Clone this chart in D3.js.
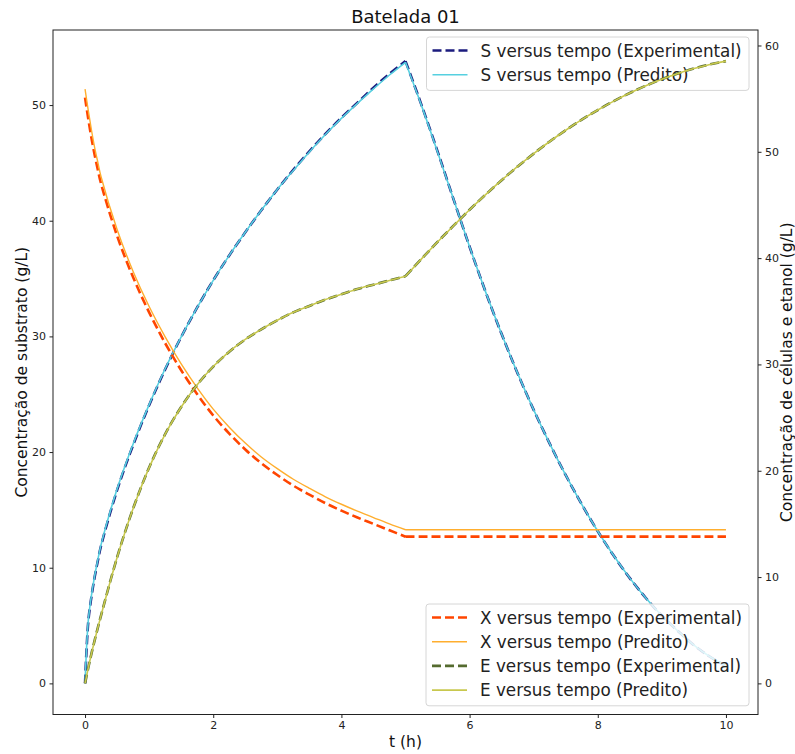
<!DOCTYPE html>
<html>
<head>
<meta charset="utf-8">
<script src="https://cdn.jsdelivr.net/npm/d3@7"></script>
<style>
  body { margin: 0; background: #fff; }
  svg { font-family: "DejaVu Sans", sans-serif; }
</style>
</head>
<body>
<svg width="795" height="754"></svg>
<script>
// dados
var tempo = [0, 0.05, 0.1, 0.15, 0.2, 0.25, 0.5, 0.75, 1, 1.25, 1.5, 1.75, 2, 2.25, 2.5, 2.75, 3, 3.25, 3.5, 3.75, 4, 4.25, 4.5, 4.75, 5,
             5.25, 5.5, 5.75, 6, 6.25, 6.5, 6.75, 7, 7.25, 7.5, 7.75, 8, 8.25, 8.5, 8.75, 9, 9.25, 9.5, 9.75, 10];

// eixo esquerdo
var S_exp = [0, 5.3, 7.5, 9.2, 10.6, 11.9, 16.7, 20.6, 24.05, 27.15, 29.95, 32.5, 34.85, 37.0, 39.0, 40.9, 42.7, 44.4, 46.0, 47.5, 48.9, 50.2, 51.5, 52.7, 53.8,
             50.0, 46.0, 41.85, 37.75, 33.85, 30.2, 26.8, 23.65, 20.73, 18.0, 15.48, 13.15, 11.03, 9.1, 7.38, 5.85, 4.53, 3.3, 2.3, 1.5];
var S_pred = [0, 5.4, 7.6, 9.3, 10.7, 12.0, 16.8, 20.7, 24.1, 27.2, 29.95, 32.5, 34.85, 37.0, 39.0, 40.9, 42.7, 44.35, 45.95, 47.45, 48.85, 50.15, 51.4, 52.6, 53.7,
              49.95, 45.95, 41.85, 37.75, 33.85, 30.2, 26.8, 23.65, 20.73, 18.0, 15.48, 13.15, 11.03, 9.1, 7.38, 5.85, 4.53, 3.3, 2.3, 1.5];

// eixo direito
var X_exp = [55.1, 53.1, 51.3, 49.7, 48.3, 47.0, 42.1, 38.2, 34.9, 32.0, 29.45, 27.2, 25.2, 23.5, 22.0, 20.7, 19.6, 18.6, 17.75, 16.95, 16.25, 15.6, 15.0, 14.4, 13.8,
             13.8, 13.8, 13.8, 13.8, 13.8, 13.8, 13.8, 13.8, 13.8, 13.8, 13.8, 13.8, 13.8, 13.8, 13.8, 13.8, 13.8, 13.8, 13.8, 13.8];
var X_pred = [55.9, 53.9, 52.05, 50.4, 49.0, 47.65, 42.7, 38.75, 35.45, 32.6, 30.05, 27.8, 25.8, 24.1, 22.6, 21.3, 20.2, 19.2, 18.35, 17.55, 16.85, 16.2, 15.6, 15.0, 14.45,
              14.45, 14.45, 14.45, 14.45, 14.45, 14.45, 14.45, 14.45, 14.45, 14.45, 14.45, 14.45, 14.45, 14.45, 14.45, 14.45, 14.45, 14.45, 14.45, 14.45];
var E_exp = [0, 1.45, 2.8, 4.05, 5.25, 6.4, 11.85, 16.45, 20.3, 23.45, 26.0, 28.1, 29.8, 31.2, 32.35, 33.3, 34.15, 34.9, 35.5, 36.1, 36.6, 37.1, 37.5, 37.9, 38.3,
             39.93, 41.52, 43.05, 44.55, 45.97, 47.33, 48.62, 49.83, 50.97, 52.03, 53.02, 53.93, 54.77, 55.53, 56.22, 56.83, 57.37, 57.83, 58.22, 58.53];
var E_pred = [0, 1.45, 2.8, 4.05, 5.25, 6.4, 11.85, 16.45, 20.3, 23.45, 26.0, 28.1, 29.8, 31.2, 32.35, 33.3, 34.15, 34.9, 35.5, 36.1, 36.6, 37.1, 37.5, 37.9, 38.3,
              39.93, 41.52, 43.05, 44.55, 45.97, 47.33, 48.62, 49.83, 50.97, 52.03, 53.02, 53.93, 54.77, 55.53, 56.22, 56.83, 57.37, 57.83, 58.22, 58.53];

var xTicks = [0, 2, 4, 6, 8, 10];
var leftTicks = [0, 10, 20, 30, 40, 50];
var rightTicks = [0, 10, 20, 30, 40, 50, 60];

var svg = d3.select("svg"),
    width = +svg.attr("width"),
    height = +svg.attr("height");

var plot = {left: 53, right: 758, top: 30, bottom: 714.5};

// limites com 5% de folga, como o matplotlib
function pad(vals) {
    var lo = d3.min(vals), hi = d3.max(vals), m = (hi - lo) * 0.05;
    return [lo - m, hi + m];
}

var x = d3.scaleLinear().domain(pad(tempo)).range([plot.left, plot.right]);
var yL = d3.scaleLinear().domain(pad(S_exp.concat(S_pred))).range([plot.bottom, plot.top]);
var yR = d3.scaleLinear().domain(pad(X_exp.concat(X_pred, E_exp, E_pred))).range([plot.bottom, plot.top]);

svg.append("rect").attr("width", width).attr("height", height).attr("fill", "#fff");

// desenha em dois trechos (0-5 e 5-10) pra manter a quina em t=5
var iq = tempo.indexOf(5);
function pathFor(vals, y) {
    var pts = tempo.map(function(t, i) { return [t, vals[i]]; });
    var line = d3.line().x(function(d) { return x(d[0]); }).y(function(d) { return y(d[1]); }).curve(d3.curveCatmullRom.alpha(0.5));
    return line(pts.slice(0, iq + 1)) + line(pts.slice(iq));
}

var series = {
    S_exp:  {vals: S_exp,  y: yL, color: "#1b1b7e", w: 2.6, dash: "9,4",  label: "S versus tempo (Experimental)"},
    S_pred: {vals: S_pred, y: yL, color: "#56d0e0", w: 1.6, dash: null,   label: "S versus tempo (Predito)"},
    X_exp:  {vals: X_exp,  y: yR, color: "#ff4500", w: 2.6, dash: "9,4",  label: "X versus tempo (Experimental)"},
    X_pred: {vals: X_pred, y: yR, color: "#ffae2e", w: 1.4, dash: null,   label: "X versus tempo (Predito)"},
    E_exp:  {vals: E_exp,  y: yR, color: "#556b2f", w: 2.6, dash: "9,4",  label: "E versus tempo (Experimental)"},
    E_pred: {vals: E_pred, y: yR, color: "#c8c84e", w: 1.6, dash: null,   label: "E versus tempo (Predito)"}
};

function drawSeries(key) {
    var s = series[key];
    svg.append("path")
        .attr("d", pathFor(s.vals, s.y))
        .attr("fill", "none")
        .attr("stroke", s.color)
        .attr("stroke-width", s.w)
        .attr("stroke-dasharray", s.dash);
}

function drawLegend(keys, x0, y0, w) {
    var rowH = 24.2;
    var g = svg.append("g").attr("transform", "translate(" + x0 + "," + y0 + ")");
    g.append("rect")
        .attr("width", w).attr("height", keys.length * rowH + 5)
        .attr("rx", 3)
        .attr("fill", "#fff").attr("fill-opacity", 0.8)
        .attr("stroke", "#d6d6d6").attr("stroke-width", 1);
    keys.forEach(function(k, i) {
        var s = series[k], cy = 13.5 + i * rowH;
        g.append("line")
            .attr("x1", 6).attr("x2", 41).attr("y1", cy).attr("y2", cy)
            .attr("stroke", s.color).attr("stroke-width", s.w)
            .attr("stroke-dasharray", s.dash);
        g.append("text")
            .attr("x", 54).attr("y", cy).attr("dy", "0.36em")
            .attr("font-size", 16.8).attr("fill", "#222")
            .text(s.label);
    });
}

// eixo 1: substrato
drawSeries("S_exp");
drawSeries("S_pred");
drawLegend(["S_exp", "S_pred"], 426.5, 37, 322.5);

// eixo 2: celulas e etanol
drawSeries("X_exp");
drawSeries("X_pred");
drawSeries("E_exp");
drawSeries("E_pred");
drawLegend(["X_exp", "X_pred", "E_exp", "E_pred"], 426, 604, 323);

// moldura
svg.append("rect")
    .attr("x", plot.left).attr("y", plot.top)
    .attr("width", plot.right - plot.left).attr("height", plot.bottom - plot.top)
    .attr("fill", "none").attr("stroke", "#222").attr("stroke-width", 1);

function styleAxis(g) {
    g.select(".domain").remove();
    g.selectAll(".tick line").attr("stroke", "#222");
    g.selectAll(".tick text").attr("font-size", 11).attr("fill", "#222").attr("font-family", "DejaVu Sans");
}

svg.append("g")
    .attr("transform", "translate(0," + plot.bottom + ")")
    .call(d3.axisBottom(x).tickValues(xTicks).tickSize(3.5).tickPadding(3.5))
    .call(styleAxis);

svg.append("g")
    .attr("transform", "translate(" + plot.left + ",0)")
    .call(d3.axisLeft(yL).tickValues(leftTicks).tickSize(3.5).tickPadding(3.5))
    .call(styleAxis);

svg.append("g")
    .attr("transform", "translate(" + plot.right + ",0)")
    .call(d3.axisRight(yR).tickValues(rightTicks).tickSize(3.5).tickPadding(3.5))
    .call(styleAxis);

// textos
svg.append("text")
    .attr("x", (plot.left + plot.right) / 2).attr("y", 17).attr("dy", "0.36em")
    .attr("text-anchor", "middle").attr("font-size", 18).attr("fill", "#111")
    .text("Batelada 01");

svg.append("text")
    .attr("x", (plot.left + plot.right) / 2).attr("y", 741).attr("dy", "0.36em")
    .attr("text-anchor", "middle").attr("font-size", 15.5).attr("fill", "#111")
    .text("t (h)");

svg.append("text")
    .attr("transform", "translate(21," + (plot.top + plot.bottom) / 2 + ") rotate(-90)")
    .attr("dy", "0.36em")
    .attr("text-anchor", "middle").attr("font-size", 15.5).attr("fill", "#111")
    .text("Concentração de substrato (g/L)");

svg.append("text")
    .attr("transform", "translate(786," + (plot.top + plot.bottom) / 2 + ") rotate(-90)")
    .attr("dy", "0.36em")
    .attr("text-anchor", "middle").attr("font-size", 15.5).attr("fill", "#111")
    .text("Concentração de células e etanol (g/L)");
</script>
</body>
</html>
